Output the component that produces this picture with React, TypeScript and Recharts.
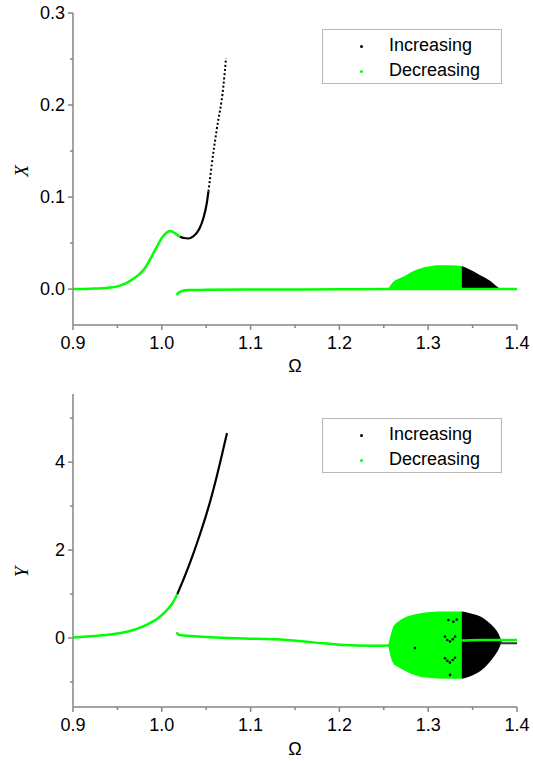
import React from 'react';
import { ComposedChart, Line, Area, Scatter, XAxis, YAxis, Legend } from 'recharts';

// ---------- tick values ----------
const omegaMajorTicks = [0.9, 1.0, 1.1, 1.2, 1.3, 1.4];
const omegaMinorTicks = [0.95, 1.05, 1.15, 1.25, 1.35];
const xMajorTicks = [0, 0.1, 0.2, 0.3];
const xMinorTicks = [0.05, 0.15, 0.25];
const yMajorTicks = [0, 2, 4];
const yMinorTicks = [-1, 1, 3, 5];
const seriesNames = ['Increasing', 'Decreasing'];

// ---------- top chart: X vs Omega ----------
const xDecLeftOmega = [0.9, 0.92, 0.94, 0.95, 0.96, 0.97, 0.975, 0.98, 0.985, 0.99, 0.995, 1.0, 1.005, 1.009, 1.013, 1.017, 1.0205];
const xDecLeftValue = [0.0, 0.0004, 0.0015, 0.003, 0.0065, 0.0125, 0.0165, 0.0215, 0.029, 0.038, 0.047, 0.0555, 0.061, 0.0632, 0.062, 0.0592, 0.057];
const xIncOmega = [1.0205, 1.025, 1.03, 1.035, 1.04, 1.043, 1.0468, 1.0506, 1.0525];
const xIncValue = [0.057, 0.0555, 0.055, 0.057, 0.062, 0.067, 0.077, 0.093, 0.106];
const xIncDotOmega = [1.0525, 1.0543, 1.0562, 1.0618, 1.0693, 1.0723];
const xIncDotValue = [0.106, 0.12, 0.135, 0.173, 0.22, 0.251];
const xDecLowOmega = [1.0167, 1.019, 1.023, 1.03, 1.05, 1.1, 1.2, 1.255, 1.3, 1.4];
const xDecLowValue = [-0.0065, -0.004, -0.002, -0.001, -0.0008, -0.0005, -0.0002, 0.0, 0.0, 0.0];
const xBlobDecOmega = [1.255, 1.2607, 1.266, 1.272, 1.28, 1.2908, 1.3, 1.3095, 1.3246, 1.3377];
const xBlobDecLow = [-0.0005, -0.001, -0.001, -0.001, -0.001, -0.001, -0.001, -0.001, -0.001, -0.001];
const xBlobDecHigh = [0.0005, 0.008, 0.011, 0.0134, 0.018, 0.0225, 0.0245, 0.026, 0.026, 0.025];
const xBlobIncOmega = [1.3377, 1.345, 1.3586, 1.3696, 1.376, 1.381];
const xBlobIncLow = [-0.001, -0.001, -0.001, -0.001, -0.001, -0.0005];
const xBlobIncHigh = [0.025, 0.022, 0.015, 0.009, 0.004, 0.0005];

// ---------- bottom chart: Y vs Omega ----------
const yDecLeftOmega = [0.9, 0.92, 0.94, 0.9567, 0.966, 0.9755, 0.9867, 0.995, 1.0055, 1.012, 1.0175];
const yDecLeftValue = [0.01, 0.04, 0.075, 0.125, 0.17, 0.235, 0.34, 0.44, 0.63, 0.79, 1.0];
const yIncOmega = [1.0175, 1.025, 1.0355, 1.043, 1.0506, 1.056, 1.0618, 1.0665, 1.0712, 1.0734];
const yIncValue = [1.0, 1.36, 1.92, 2.36, 2.84, 3.22, 3.67, 4.06, 4.47, 4.66];
const yDecLowOmega = [1.0167, 1.018, 1.022, 1.0318, 1.05, 1.084, 1.1406, 1.1706, 1.2044, 1.2345, 1.257, 1.3377, 1.36, 1.4];
const yDecLowValue = [0.13, 0.09, 0.06, 0.045, 0.02, -0.008, -0.045, -0.1, -0.16, -0.175, -0.17, -0.06, -0.045, -0.045];
const yIncTailOmega = [1.38, 1.4];
const yIncTailValue = [-0.12, -0.12];
const yBlobDecOmega = [1.255, 1.2589, 1.2607, 1.266, 1.272, 1.28, 1.2908, 1.303, 1.317, 1.3377];
const yBlobDecLow = [-0.18, -0.5, -0.58, -0.66, -0.73, -0.81, -0.88, -0.91, -0.93, -0.93];
const yBlobDecHigh = [-0.17, 0.15, 0.26, 0.37, 0.45, 0.51, 0.56, 0.59, 0.6, 0.6];
const yBlobIncOmega = [1.3377, 1.346, 1.3546, 1.363, 1.3696, 1.375, 1.379, 1.3828];
const yBlobIncLow = [-0.93, -0.88, -0.8, -0.68, -0.54, -0.4, -0.27, -0.08];
const yBlobIncHigh = [0.6, 0.57, 0.52, 0.44, 0.33, 0.22, 0.1, -0.08];
const yIncScatterOmega = [1.3227, 1.3283, 1.3321, 1.3189, 1.3215, 1.3245, 1.3276, 1.3302, 1.3189, 1.3215, 1.3245, 1.3276, 1.3302, 1.3245, 1.2851];
const yIncScatterValue = [0.41, 0.37, 0.42, 0.03, -0.045, -0.08, -0.03, 0.03, -0.46, -0.52, -0.56, -0.5, -0.45, -0.84, -0.23];

// ---------- helpers ----------
const pts = (xs: number[], ys: number[]) => xs.map((x, i) => ({ x, y: ys[i] }));
const band = (xs: number[], lo: number[], hi: number[]) => xs.map((x, i) => ({ x, r: [lo[i], hi[i]] }));

const AXIS = '#858585';
const GREEN = '#00ff00';
const SANS = '"Liberation Sans", Arial, sans-serif';
const SERIF = '"Liberation Serif", "Times New Roman", serif';

const near = (list: number[], v: number) => list.some((m) => Math.abs(m - v) < 1e-9);

const OmegaTick = (props: any) => {
  const { x, y, payload } = props;
  const major = near(omegaMajorTicks, payload.value);
  return (
    <g>
      <line x1={x} y1={y} x2={x} y2={y + (major ? 5 : 3)} stroke={AXIS} strokeWidth={1.5} />
      {major && (
        <text x={x} y={y + 18} textAnchor="middle" dominantBaseline="central" fontSize={18} fontFamily={SANS} fill="#000">
          {Number(payload.value).toFixed(1)}
        </text>
      )}
    </g>
  );
};

const makeYTick = (majorList: number[], fmt: (v: number) => string) => (props: any) => {
  const { x, y, payload } = props;
  const major = near(majorList, payload.value);
  return (
    <g>
      <line x1={x} y1={y} x2={x - (major ? 5 : 3)} y2={y} stroke={AXIS} strokeWidth={1.5} />
      {major && (
        <text x={x - 8} y={y} textAnchor="end" dominantBaseline="central" fontSize={18} fontFamily={SANS} fill="#000">
          {fmt(payload.value)}
        </text>
      )}
    </g>
  );
};

const XTickTop = makeYTick(xMajorTicks, (v) => v.toFixed(1));
const YTickBottom = makeYTick(yMajorTicks, (v) => String(v));

const LegendBox = () => (
  <div
    style={{
      width: 180,
      height: 55,
      boxSizing: 'border-box',
      border: '1px solid #b8b8b8',
      background: '#fff',
      position: 'relative',
      fontFamily: SANS,
      fontSize: 18,
      color: '#000',
    }}
  >
    {seriesNames.map((name, i) => (
      <div key={name}>
        <div
          style={{
            position: 'absolute',
            left: 37,
            top: 15 + i * 25,
            width: 3,
            height: 3,
            borderRadius: 2,
            background: i === 0 ? '#000' : GREEN,
          }}
        />
        <div style={{ position: 'absolute', left: 66, top: 4 + i * 25, lineHeight: '22px', whiteSpace: 'nowrap' }}>{name}</div>
      </div>
    ))}
  </div>
);

const dotShape = (props: any) => <circle cx={props.cx} cy={props.cy} r={1.3} fill="#000" />;

export default function App() {
  const topDomain = [-0.039, 0.3];
  const botDomain = [-1.57, 5.55];
  return (
    <div style={{ position: 'absolute', left: 0, top: 0, width: 533, height: 761, background: '#fff' }}>
      <div style={{ position: 'absolute', left: 0, top: 0 }}>
        <ComposedChart width={533} height={380} margin={{ top: 13, right: 16, left: 0, bottom: 0 }}>
          <XAxis
            dataKey="x"
            type="number"
            domain={[0.9, 1.4]}
            allowDataOverflow
            ticks={[...omegaMajorTicks, ...omegaMinorTicks].sort((a, b) => a - b)}
            interval={0}
            tickSize={0}
            tickMargin={0}
            tickLine={false}
            tick={<OmegaTick />}
            height={55}
            axisLine={{ stroke: AXIS, strokeWidth: 1.5 }}
            label={{
              value: 'Ω',
              content: () => (
                <text x={295} y={366} textAnchor="middle" dominantBaseline="central" fontSize={18} fontFamily={SANS} fill="#000">
                  Ω
                </text>
              ),
            }}
          />
          <XAxis xAxisId="top" orientation="top" type="number" domain={[0.9, 1.4]} ticks={[]} tick={false} tickLine={false} height={0} axisLine={{ stroke: AXIS, strokeWidth: 1.5 }} />
          <YAxis
            dataKey="y"
            type="number"
            domain={topDomain}
            allowDataOverflow
            ticks={[...xMajorTicks, ...xMinorTicks].sort((a, b) => a - b)}
            interval={0}
            tickSize={0}
            tickMargin={0}
            tickLine={false}
            tick={<XTickTop />}
            width={73}
            axisLine={{ stroke: AXIS, strokeWidth: 1.5 }}
            label={{
              value: 'X',
              content: () => (
                <text x={21} y={171} transform="rotate(-90 21 171)" textAnchor="middle" dominantBaseline="central" fontSize={19} fontStyle="italic" fontFamily={SERIF} fill="#000">
                  X
                </text>
              ),
            }}
          />
          <YAxis yAxisId="right" orientation="right" type="number" domain={topDomain} ticks={[]} tick={false} tickLine={false} width={0} axisLine={{ stroke: AXIS, strokeWidth: 1.5 }} />
          <Area data={band(xBlobDecOmega, xBlobDecLow, xBlobDecHigh)} dataKey="r" type="monotone" stroke="none" fill={GREEN} fillOpacity={1} isAnimationActive={false} name="Decreasing" legendType="none" />
          <Area data={band(xBlobIncOmega, xBlobIncLow, xBlobIncHigh)} dataKey="r" type="monotone" stroke="none" fill="#000" fillOpacity={1} isAnimationActive={false} name="Increasing" legendType="none" />
          <Line data={pts(xDecLeftOmega, xDecLeftValue)} dataKey="y" type="monotone" stroke={GREEN} strokeWidth={2.5} dot={false} isAnimationActive={false} name="Decreasing" />
          <Line data={pts(xDecLowOmega, xDecLowValue)} dataKey="y" type="monotone" stroke={GREEN} strokeWidth={2.5} dot={false} isAnimationActive={false} name="Decreasing" />
          <Line data={pts(xIncOmega, xIncValue)} dataKey="y" type="monotone" stroke="#000" strokeWidth={2.2} dot={false} isAnimationActive={false} name="Increasing" />
          <Line data={pts(xIncDotOmega, xIncDotValue)} dataKey="y" type="monotone" stroke="#000" strokeWidth={2} strokeDasharray="2 2.2" dot={false} isAnimationActive={false} name="Increasing" />
          <Legend
            layout="horizontal"
            verticalAlign="middle"
            align="center"
            wrapperStyle={{ position: 'absolute', left: 322, top: 29, width: 180, height: 55 }}
            content={() => <LegendBox />}
          />
        </ComposedChart>
      </div>
      <div style={{ position: 'absolute', left: 0, top: 380 }}>
        <ComposedChart width={533} height={381} margin={{ top: 14, right: 16, left: 0, bottom: 0 }}>
          <XAxis
            dataKey="x"
            type="number"
            domain={[0.9, 1.4]}
            allowDataOverflow
            ticks={[...omegaMajorTicks, ...omegaMinorTicks].sort((a, b) => a - b)}
            interval={0}
            tickSize={0}
            tickMargin={0}
            tickLine={false}
            tick={<OmegaTick />}
            height={54}
            axisLine={{ stroke: AXIS, strokeWidth: 1.5 }}
            label={{
              value: 'Ω',
              content: () => (
                <text x={295} y={369} textAnchor="middle" dominantBaseline="central" fontSize={18} fontFamily={SANS} fill="#000">
                  Ω
                </text>
              ),
            }}
          />
          <XAxis xAxisId="top" orientation="top" type="number" domain={[0.9, 1.4]} ticks={[]} tick={false} tickLine={false} height={0} axisLine={{ stroke: AXIS, strokeWidth: 1.5 }} />
          <YAxis
            dataKey="y"
            type="number"
            domain={botDomain}
            allowDataOverflow
            ticks={[...yMajorTicks, ...yMinorTicks].sort((a, b) => a - b)}
            interval={0}
            tickSize={0}
            tickMargin={0}
            tickLine={false}
            tick={<YTickBottom />}
            width={73}
            axisLine={{ stroke: AXIS, strokeWidth: 1.5 }}
            label={{
              value: 'Y',
              content: () => (
                <text x={21} y={192} transform="rotate(-90 21 192)" textAnchor="middle" dominantBaseline="central" fontSize={19} fontStyle="italic" fontFamily={SERIF} fill="#000">
                  Y
                </text>
              ),
            }}
          />
          <YAxis yAxisId="right" orientation="right" type="number" domain={botDomain} ticks={[]} tick={false} tickLine={false} width={0} axisLine={{ stroke: AXIS, strokeWidth: 1.5 }} />
          <Area data={band(yBlobDecOmega, yBlobDecLow, yBlobDecHigh)} dataKey="r" type="monotone" stroke="none" fill={GREEN} fillOpacity={1} isAnimationActive={false} name="Decreasing" legendType="none" />
          <Area data={band(yBlobIncOmega, yBlobIncLow, yBlobIncHigh)} dataKey="r" type="monotone" stroke="none" fill="#000" fillOpacity={1} isAnimationActive={false} name="Increasing" legendType="none" />
          <Line data={pts(yDecLeftOmega, yDecLeftValue)} dataKey="y" type="monotone" stroke={GREEN} strokeWidth={2.5} dot={false} isAnimationActive={false} name="Decreasing" />
          <Line data={pts(yIncOmega, yIncValue)} dataKey="y" type="monotone" stroke="#000" strokeWidth={2.2} dot={false} isAnimationActive={false} name="Increasing" />
          <Line data={pts(yIncTailOmega, yIncTailValue)} dataKey="y" type="linear" stroke="#333" strokeWidth={2} dot={false} isAnimationActive={false} name="Increasing" />
          <Line data={pts(yDecLowOmega, yDecLowValue)} dataKey="y" type="monotone" stroke={GREEN} strokeWidth={2.5} dot={false} isAnimationActive={false} name="Decreasing" />
          <Scatter data={pts(yIncScatterOmega, yIncScatterValue)} dataKey="y" fill="#000" shape={dotShape} isAnimationActive={false} name="Increasing" />
          <Legend
            layout="horizontal"
            verticalAlign="middle"
            align="center"
            wrapperStyle={{ position: 'absolute', left: 322, top: 38, width: 180, height: 55 }}
            content={() => <LegendBox />}
          />
        </ComposedChart>
      </div>
    </div>
  );
}
